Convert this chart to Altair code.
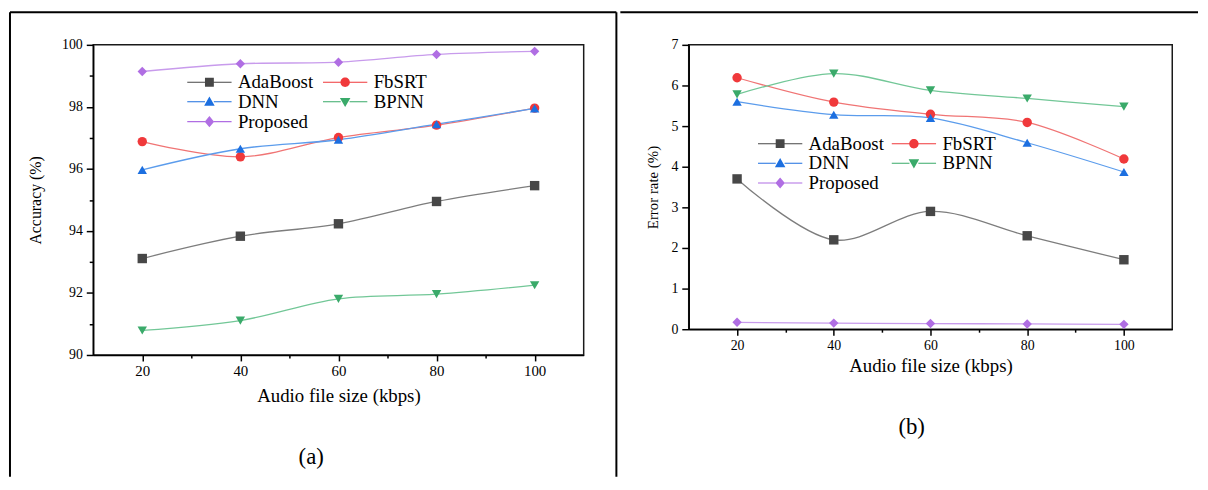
import altair as alt
import pandas as pd

FONT = "Liberation Serif"

sizes = [20, 40, 60, 80, 100]
methods = ["AdaBoost", "FbSRT", "DNN", "BPNN", "Proposed"]

# Panel (a): accuracy (%)
acc_adaboost = [93.11, 93.83, 94.23, 94.95, 95.46]
acc_fbsrt = [96.88, 96.39, 97.01, 97.41, 97.96]
acc_dnn = [95.97, 96.65, 96.94, 97.44, 97.95]
acc_bpnn = [90.79, 91.11, 91.81, 91.96, 92.25]
acc_proposed = [99.14, 99.39, 99.44, 99.69, 99.79]

# Panel (b): error rate (%)
err_adaboost = [3.70, 2.20, 2.90, 2.30, 1.71]
err_fbsrt = [6.19, 5.59, 5.29, 5.09, 4.19]
err_dnn = [5.60, 5.28, 5.20, 4.59, 3.87]
err_bpnn = [5.78, 6.29, 5.88, 5.68, 5.48]
err_proposed = [0.17, 0.15, 0.14, 0.13, 0.12]

x_ticks = [20, 30, 40, 50, 60, 70, 80, 90, 100]
acc_ticks = [90, 91, 92, 93, 94, 95, 96, 97, 98, 99, 100]
err_ticks = [0, 0.5, 1, 1.5, 2, 2.5, 3, 3.5, 4, 4.5, 5, 5.5, 6, 6.5, 7]

marker_colors = ["#474747", "#f0393b", "#1c6fe0", "#3aaa6a", "#b06ee3"]
line_colors = ["#7d7d7d", "#f07474", "#5b9cec", "#72c797", "#c89bec"]
shapes = ["square", "circle", "triangle-up", "triangle-down", "diamond"]

# legend glyphs: a short line with the marker in the middle
_seg = "M-1,-0.1H2.2V0.1H-1Z M3.8,-0.1H7V0.1H3.8Z "
legend_glyphs = [
    _seg + "M2.2,-0.8H3.8V0.8H2.2Z",
    _seg + "M3.85,0A0.85,0.85 0 1,1 2.15,0A0.85,0.85 0 1,1 3.85,0Z",
    _seg + "M3,-0.95L3.95,0.7L2.05,0.7Z",
    _seg + "M3,0.95L3.95,-0.7L2.05,-0.7Z",
    _seg + "M3,-1L3.85,0L3,1L2.15,0Z",
]


def long_df(series):
    rows = []
    for m, vals in zip(methods, series):
        for s, v in zip(sizes, vals):
            rows.append({"size": s, "method": m, "value": v})
    return pd.DataFrame(rows)


one = pd.DataFrame({"k": [0]})


def panel(df, ydom, yticks, major_test, w, h, ytitle, ytitle_size, ytitle_pad,
          xlabel_size, xlabel_pad, xtitle_pad, lx, ly, rowpad, colpad,
          caption, capx, capy, left_x, right_x, top_x1, top_x2, bottom):
    xaxis = alt.Axis(
        values=x_ticks,
        labelExpr="datum.value % 20 === 0 ? datum.label : ''",
        tickSize={"condition": {"test": "datum.value % 20 === 0", "value": 6}, "value": 3},
        title="Audio file size (kbps)",
        titleFontSize=19,
        titlePadding=xtitle_pad,
        labelFontSize=xlabel_size,
        labelPadding=xlabel_pad,
        grid=False,
        orient="bottom",
    )
    yaxis = alt.Axis(
        values=yticks,
        format="d",
        labelExpr="(" + major_test + ") ? datum.label : ''",
        tickSize={"condition": {"test": major_test, "value": 7}, "value": 4},
        title=ytitle,
        titleFontSize=ytitle_size,
        titlePadding=ytitle_pad,
        labelFontSize=14,
        labelPadding=4,
        grid=False,
        orient="left",
    )
    xenc = alt.X("size:Q", scale=alt.Scale(domain=[10, 110], nice=False, zero=False), axis=xaxis)
    yenc = alt.Y("value:Q", scale=alt.Scale(domain=ydom, nice=False, zero=False), axis=yaxis)

    base = alt.Chart(df)
    lines = base.mark_line(strokeWidth=1.3, interpolate="catmull-rom").encode(
        x=xenc, y=yenc,
        color=alt.Color("method:N", scale=alt.Scale(domain=methods, range=line_colors), legend=None),
    )
    points = base.mark_point(filled=True, opacity=1, size=90).encode(
        x=xenc, y=yenc,
        color=alt.Color("method:N", scale=alt.Scale(domain=methods, range=marker_colors), legend=None),
        shape=alt.Shape("method:N", scale=alt.Scale(domain=methods, range=shapes), legend=None),
    )
    leg = alt.Legend(
        orient="none", legendX=lx, legendY=ly, columns=2, direction="horizontal", title=None,
        symbolSize=125, symbolStrokeWidth=0, symbolOpacity=1,
        labelFont=FONT, labelFontSize=19, labelColor="black", labelOffset=36,
        rowPadding=rowpad, columnPadding=colpad, padding=0, labelLimit=0,
    )
    legend_layer = base.transform_filter("false").mark_point(filled=True, opacity=1, size=125).encode(
        color=alt.Color("method:N", scale=alt.Scale(domain=methods, range=marker_colors), legend=leg),
        shape=alt.Shape("method:N", scale=alt.Scale(domain=methods, range=legend_glyphs), legend=leg),
    )

    rule = alt.Chart(one).mark_rule(color="black", strokeWidth=2)
    layers = [
        rule.encode(x=alt.value(top_x1), x2=alt.value(top_x2), y=alt.value(-33)),
    ]
    if right_x is not None:
        layers.append(rule.encode(x=alt.value(right_x), y=alt.value(-33), y2=alt.value(bottom)))
    if left_x is not None:
        layers.append(rule.encode(x=alt.value(left_x), y=alt.value(-33), y2=alt.value(bottom)))

    cap = alt.Chart(pd.DataFrame({"t": [caption]})).mark_text(
        font=FONT, fontSize=23, align="center", baseline="middle", color="black"
    ).encode(x=alt.value(capx), y=alt.value(capy), text="t:N")

    layers += [lines, points, legend_layer, cap]
    return alt.layer(*layers).resolve_scale(color="independent", shape="independent").properties(
        width=w, height=h
    )


acc_df = long_df([acc_adaboost, acc_fbsrt, acc_dnn, acc_bpnn, acc_proposed])
err_df = long_df([err_adaboost, err_fbsrt, err_dnn, err_bpnn, err_proposed])

left = panel(acc_df, [90, 100], acc_ticks, "datum.value % 2 === 0", 495, 313,
             "Accuracy (%)", 16, 18, 15, 3, 8, 91, 28, 0, 6,
             "(a)", 220, 416, -84, 528, -84, 528, 436)
right = panel(err_df, [0, 7], err_ticks, "datum.value % 1 === 0", 488, 287,
              "Error rate (%)", 15, 10, 14, 3, 5, 66, 90, 0, 4,
              "(b)", 225, 386, None, None, -69, 514, 436)

chart = alt.hconcat(left, right, spacing=0).properties(padding=0).configure_view(
    stroke="#1a1a1a", strokeWidth=1.5
).configure_axis(
    labelFont=FONT, titleFont=FONT, labelColor="black", titleColor="black",
    titleFontWeight="normal", domainColor="black", domainWidth=1.5,
    tickColor="black", tickWidth=1.5,
)

chart.save("out.html", embed_options={"renderer": "svg", "actions": False})
